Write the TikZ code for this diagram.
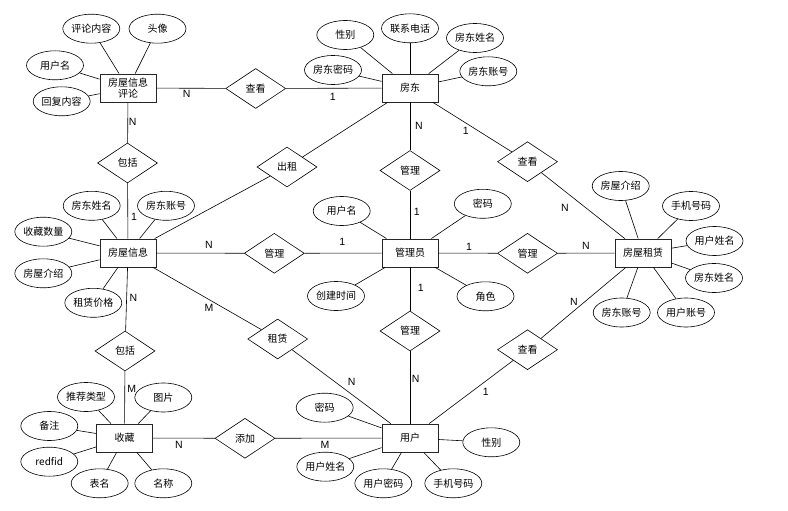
\documentclass[tikz,border=0pt]{standalone}
\usepackage{fontspec}
\setmainfont{Noto Sans CJK SC}
\newfontfamily\lblfont{Liberation Sans}
\usetikzlibrary{shapes.geometric}
\begin{document}
\begin{tikzpicture}[x=1pt,y=-1pt,
  ent/.style={draw=black!85, line width=0.9pt, minimum width=56pt, minimum height=28pt, inner sep=0pt, align=center, font=\fontsize{10}{11.5}\selectfont},
  rel/.style={draw, diamond, line width=0.6pt, minimum width=60pt, minimum height=40pt, inner sep=0pt, font=\fontsize{10}{12}\selectfont},
  att/.style={draw, ellipse, line width=0.6pt, minimum width=57pt, minimum height=29pt, inner sep=0pt, font=\fontsize{10}{12}\selectfont},
  lbl/.style={font=\lblfont\fontsize{10.5}{12}\selectfont, inner sep=0pt},
  con/.style={line width=0.6pt}]
\useasboundingbox (0,0) rectangle (788,511);
% entities
\node[ent] (pl) at (128,88) {房屋信息\\评论};
\node[ent] (fd) at (410,88) {房东};
\node[ent] (zl) at (643,253) {房屋租赁};
\node[ent] (xx) at (128,253) {房屋信息};
\node[ent] (gly) at (410,253) {管理员};
\node[ent] (sc) at (124.5,438) {收藏};
\node[ent] (yh) at (410,438) {用户};
% relationships
\node[rel] (r1) at (255.7,88.5) {查看};
\node[rel] (r2) at (127.5,163) {包括};
\node[rel] (r3) at (287,167) {出租};
\node[rel] (r4) at (410,170.5) {管理};
\node[rel] (r5) at (527.5,161.7) {查看};
\node[rel] (r6) at (274.3,253.3) {管理};
\node[rel] (r7) at (527.5,253.3) {管理};
\node[rel] (r8) at (277.7,339) {租赁};
\node[rel] (r9) at (125,351) {包括};
\node[rel] (r10) at (410,331) {管理};
\node[rel] (r11) at (527.5,349.7) {查看};
\node[rel] (r12) at (245,438.3) {添加};
% attributes of 房屋信息评论
\node[att] (a1) at (91.3,28.7) {评论内容};
\node[att] (a2) at (157.5,28.7) {头像};
\node[att] (a3) at (55,65.3) {用户名};
\node[att] (a4) at (61.7,101.3) {回复内容};
% attributes of 房东
\node[att] (b1) at (345.3,35) {性别};
\node[att] (b2) at (410,28.3) {联系电话};
\node[att] (b3) at (475,38) {房东姓名};
\node[att] (b4) at (333,70) {房东密码};
\node[att] (b5) at (488.3,71.3) {房东账号};
% attributes of 房屋租赁
\node[att] (c1) at (620.7,186) {房屋介绍};
\node[att] (c2) at (691,206) {手机号码};
\node[att] (c3) at (714.5,241) {用户姓名};
\node[att] (c4) at (714,278) {房东姓名};
\node[att] (c5) at (621.7,312.5) {房东账号};
\node[att] (c6) at (686,312.5) {用户账号};
% attributes of 房屋信息
\node[att] (d1) at (91.7,205.8) {房东姓名};
\node[att] (d2) at (166,205.8) {房东账号};
\node[att] (d3) at (43.3,231.7) {收藏数量};
\node[att] (d4) at (43.3,273.3) {房屋介绍};
\node[att] (d5) at (93.3,302.8) {租赁价格};
% attributes of 管理员
\node[att] (e1) at (341.7,211) {用户名};
\node[att] (e2) at (482.8,203.8) {密码};
\node[att] (e3) at (336,296) {创建时间};
\node[att] (e4) at (485.5,296.3) {角色};
% attributes of 收藏
\node[att] (f1) at (86,397) {推荐类型};
\node[att] (f2) at (163.3,397.5) {图片};
\node[att] (f3) at (49.3,426) {备注};
\node[att] (f4) at (49.3,461.7) {redfid};
\node[att] (f5) at (99.7,483.3) {表名};
\node[att] (f6) at (163.3,483.3) {名称};
% attributes of 用户
\node[att] (g1) at (324.7,407.7) {密码};
\node[att] (g2) at (491.3,442.3) {性别};
\node[att] (g3) at (325.3,466.7) {用户姓名};
\node[att] (g4) at (383.3,483.3) {用户密码};
\node[att] (g5) at (453.3,483.3) {手机号码};
% attribute connectors
\foreach \a in {a1,a2,a3,a4} \draw[con] (\a) -- (pl);
\foreach \a in {b1,b2,b3,b4,b5} \draw[con] (\a) -- (fd);
\foreach \a in {c1,c2,c3,c4,c5,c6} \draw[con] (\a) -- (zl);
\foreach \a in {d1,d2,d3,d4,d5} \draw[con] (\a) -- (xx);
\foreach \a in {e1,e2,e3,e4} \draw[con] (\a) -- (gly);
\foreach \a in {f1,f2,f3,f4,f5,f6} \draw[con] (\a) -- (sc);
\foreach \a in {g1,g2,g3,g4,g5} \draw[con] (\a) -- (yh);
% relationship connectors
\draw[con] (pl) -- (r1) -- (fd);
\draw[con] (pl) -- (r2) -- (xx);
\draw[con] (fd) -- (r3) -- (xx);
\draw[con] (fd) -- (r4) -- (gly);
\draw[con] (fd) -- (r5) -- (zl);
\draw[con] (xx) -- (r6) -- (gly);
\draw[con] (gly) -- (r7) -- (zl);
\draw[con] (xx) -- (r8) -- (yh);
\draw[con] (xx) -- (r9) -- (sc);
\draw[con] (gly) -- (r10) -- (yh);
\draw[con] (yh) -- (r11) -- (zl);
\draw[con] (sc) -- (r12) -- (yh);
% cardinality labels
\node[lbl] (l1) at (186.7,94.3) {N};
\node[lbl] (l2) at (332.7,96.7) {1};
\node[lbl] (l3) at (132.7,122.3) {N};
\node[lbl] (l4) at (134,217.3) {1};
\node[lbl] (l5) at (419,125.7) {N};
\node[lbl] (l6) at (416.7,212.3) {1};
\node[lbl] (l7) at (465.7,131) {1};
\node[lbl] (l8) at (565,208.3) {N};
\node[lbl] (l9) at (209,245) {N};
\node[lbl] (l10) at (342.3,242.3) {1};
\node[lbl] (l11) at (469,246.7) {1};
\node[lbl] (l12) at (586,246) {N};
\node[lbl] (l13) at (133.3,298.3) {N};
\node[lbl] (l14) at (131.7,389.3) {M};
\node[lbl] (l15) at (209,308.3) {M};
\node[lbl] (l16) at (351.7,381.7) {N};
\node[lbl] (l17) at (420.7,287.7) {1};
\node[lbl] (l18) at (415.7,379.3) {N};
\node[lbl] (l19) at (485.7,391.7) {1};
\node[lbl] (l20) at (574,301.7) {N};
\node[lbl] (l21) at (179,445) {N};
\node[lbl] (l22) at (325,445) {M};
\end{tikzpicture}
\end{document}
